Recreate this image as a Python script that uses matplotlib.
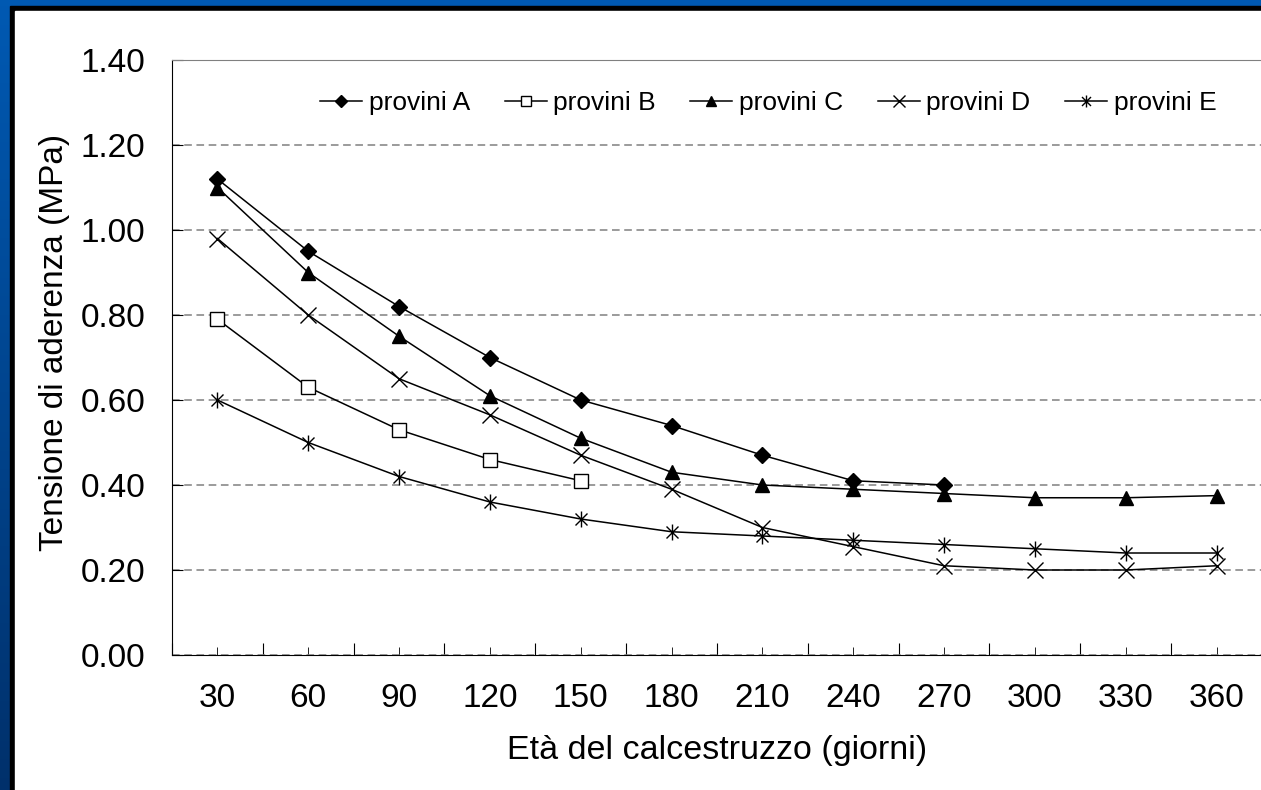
import numpy as np
import matplotlib.pyplot as plt
from matplotlib.path import Path
from matplotlib.patches import Rectangle
from matplotlib.ticker import FormatStrFormatter

plt.rcParams['font.family'] = ['Liberation Sans', 'DejaVu Sans']

eta = [30, 60, 90, 120, 150, 180, 210, 240, 270, 300, 330, 360]
provini_a = [1.12, 0.95, 0.82, 0.70, 0.60, 0.54, 0.47, 0.41, 0.40]
provini_b = [0.79, 0.63, 0.53, 0.46, 0.41]
provini_c = [1.10, 0.90, 0.75, 0.61, 0.51, 0.43, 0.40, 0.39, 0.38, 0.37, 0.37, 0.375]
provini_d = [0.98, 0.80, 0.65, 0.565, 0.47, 0.39, 0.30, 0.255, 0.21, 0.20, 0.20, 0.21]
provini_e = [0.60, 0.50, 0.42, 0.36, 0.32, 0.29, 0.28, 0.27, 0.26, 0.25, 0.24, 0.24]
nomi = ['provini A', 'provini B', 'provini C', 'provini D', 'provini E']

# asterisco tipo Excel: X + linea verticale
star = Path([(0, -1), (0, 1), (-0.75, -0.75), (0.75, 0.75), (-0.75, 0.75), (0.75, -0.75)],
            [Path.MOVETO, Path.LINETO, Path.MOVETO, Path.LINETO, Path.MOVETO, Path.LINETO])

fig = plt.figure(figsize=(12.61, 7.90), dpi=100)

# cornice blu / nera
bg = fig.add_axes([0, 0, 1, 1], zorder=-10)
grad = np.linspace(0, 1, 256).reshape(-1, 1)
top_c = np.array([0.0, 0.35, 0.70])
bot_c = np.array([0.0, 0.19, 0.42])
img = top_c + (bot_c - top_c) * grad[:, :, None]
bg.imshow(img, extent=[0, 1, 0, 1], aspect='auto', origin='upper')
bg.add_patch(Rectangle((10 / 1261, 0), 1, 1 - 6 / 790, color='black'))
bg.add_patch(Rectangle((15 / 1261, 0), 1, 1 - 11 / 790, color='white'))
bg.set_xlim(0, 1)
bg.set_ylim(0, 1)
bg.axis('off')

ax = fig.add_axes([172 / 1261, 135 / 790, 1090 / 1261, 595 / 790])
ax.set_facecolor('none')

stili = [
    dict(marker='D', ms=8.5, mfc='black', mec='black'),
    dict(marker='s', ms=10, mfc='white', mec='black', mew=1.0),
    dict(marker='^', ms=10.5, mfc='black', mec='black'),
    dict(marker='x', ms=11, mec='black', mew=1.0),
    dict(marker=star, ms=11.5, mec='black', mew=1.0),
]
serie = [provini_a, provini_b, provini_c, provini_d, provini_e]
for vals, nome, st in zip(serie, nomi, stili):
    ax.plot(range(len(vals)), vals, color='black', lw=1.1, label=nome, **st)

ax.set_xlim(-0.5, 11.5)
ax.set_ylim(0, 1.4)
ax.set_yticks(np.arange(0, 1.41, 0.2))
ax.yaxis.set_major_formatter(FormatStrFormatter('%.2f'))
ax.yaxis.grid(True, linestyle=(0, (5, 3)), color='#808080', lw=1.1)
ax.set_axisbelow(True)

ax.set_xticks(np.arange(-0.5, 12, 1))
ax.set_xticks(range(12), minor=True)
ax.set_xticklabels([str(e) for e in eta], minor=True)
ax.tick_params(axis='x', which='major', direction='in', length=9, labelbottom=False)
ax.tick_params(axis='x', which='minor', direction='in', length=6, pad=20, labelsize=24)
ax.tick_params(axis='y', direction='in', length=8, pad=19, labelsize=24)

ax.spines['right'].set_visible(False)
ax.spines['top'].set_color('#808080')
ax.spines['left'].set_color('black')
ax.spines['bottom'].set_color('black')

ax.set_xlabel('Età del calcestruzzo (giorni)', fontsize=24.5)
ax.set_ylabel('Tensione di aderenza (MPa)', fontsize=24)
ax.xaxis.set_label_coords(0.5, -0.135)
ax.yaxis.set_label_coords(-0.094, 0.525)

ax.legend(loc='center', bbox_to_anchor=(0.547, 0.928), ncol=5, frameon=False,
          fontsize=19, handlelength=1.6, handletextpad=0.25, columnspacing=1.3,
          markerscale=0.75, numpoints=1)

fig.savefig('out.png', dpi=100)
